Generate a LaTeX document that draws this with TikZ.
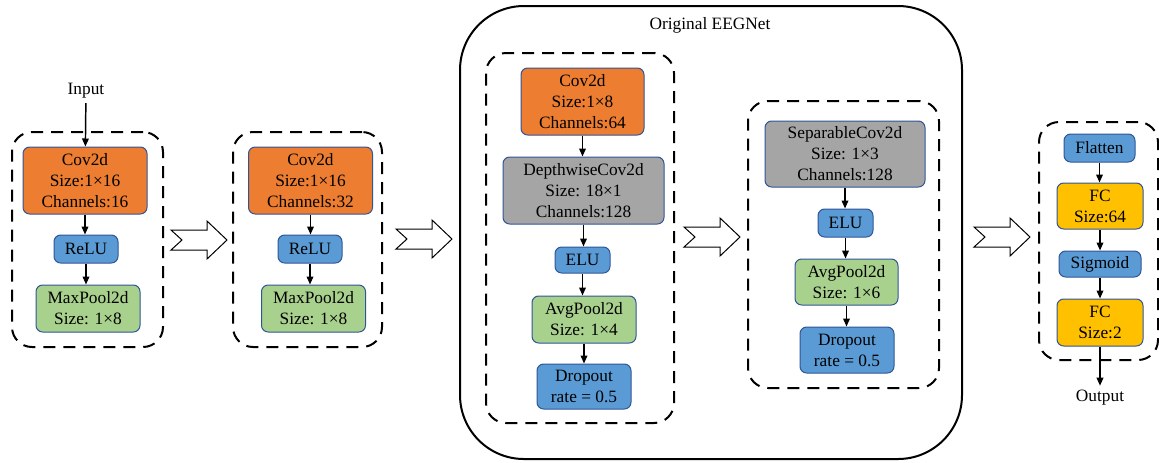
\documentclass[tikz,border=0pt]{standalone}
\usepackage{fontspec}
\setmainfont{Liberation Serif}
\usepackage{tikz}
\usetikzlibrary{
  arrows.meta,
  positioning
}
\definecolor{LayerOrange}{RGB}{237, 125, 49}
\definecolor{LayerBlue}{RGB}{91, 155, 213}
\definecolor{LayerGreen}{RGB}{169, 209, 142}
\definecolor{LayerGray}{RGB}{165, 165, 165}
\definecolor{LayerYellow}{RGB}{255, 192, 0}
\definecolor{EdgeBlue}{RGB}{47, 85, 151}
\newcommand{\layerfont}{\rmfamily\fontsize{13}{15.8}\selectfont}
\tikzset{
    boxsize/.style 2 args={minimum width=#1, minimum height=#2},
    layer/.style={rectangle, draw=EdgeBlue, line width=0.75pt, rounded corners=5pt,
        align=center, inner sep=0pt, font=\layerfont},
    convlayer/.style={layer, fill=LayerOrange},
    actlayer/.style={layer, fill=LayerBlue},
    poollayer/.style={layer, fill=LayerGreen},
    graylayer/.style={layer, fill=LayerGray},
    fclayer/.style={layer, fill=LayerYellow},
    groupbox/.style={rectangle, draw, line width=1.5pt, dash pattern=on 9pt off 6pt,
        rounded corners=15pt, inner sep=0pt},
    flow/.style={-{Triangle[length=6pt, width=5pt]}, line width=1.1pt},
    pics/notcharrow/.style={code={
        \draw[line width=0.75pt, fill=white]
            (0,-10) -- (36,-10) -- (36,-19) -- (56,0) -- (36,19) -- (36,10) -- (0,10) -- (11,0) -- cycle;
    }}
}

\begin{document}
\begin{tikzpicture}[x=0.75pt, y=-0.75pt]
    \useasboundingbox (0,0) rectangle (1159,462);

    % block 1
    \node[groupbox, boxsize={113.25pt}{161.25pt}] (g1) at (87.5,239.5) {};
    \node[font=\layerfont] (input) at (86,91) {Input};
    \node[convlayer, boxsize={93pt}{50.25pt}] (c1) at (85,180.5) {Cov2d\\Size:1×16\\Channels:16};
    \node[actlayer, boxsize={48pt}{21pt}] (r1) at (86,249) {ReLU};
    \node[poollayer, boxsize={78pt}{35.25pt}] (m1) at (88,308.5) {MaxPool2d\\Size: 1×8};
    \draw[flow] (input) -- (c1);
    \draw[flow] (c1) -- (c1 |- r1.north);
    \draw[flow] (r1) -- (r1 |- m1.north);

    \pic at (171,240) {notcharrow};

    % block 2
    \node[groupbox, boxsize={111.75pt}{161.25pt}] (g2) at (307.5,239.5) {};
    \node[convlayer, boxsize={93pt}{50.25pt}] (c2) at (310.5,180.5) {Cov2d\\Size:1×16\\Channels:32};
    \node[actlayer, boxsize={48pt}{21pt}] (r2) at (310,249) {ReLU};
    \node[poollayer, boxsize={78pt}{35.25pt}] (m2) at (313.5,308.5) {MaxPool2d\\Size: 1×8};
    \draw[flow] (c2) -- (c2 |- r2.north);
    \draw[flow] (r2) -- (r2 |- m2.north);

    \pic at (396,239) {notcharrow};

    % original EEGNet
    \node[draw, line width=1.5pt, rounded corners=48pt, boxsize={376.5pt}{339.75pt}] (eegnet) at (711,232.5) {};
    \node[font=\layerfont] (title) at (710,25) {Original EEGNet};

    \node[groupbox, boxsize={141pt}{277.5pt}] (ga) at (580,238) {};
    \node[convlayer, boxsize={92.25pt}{50.25pt}] (ca) at (582.5,101.5) {Cov2d\\Size:1×8\\Channels:64};
    \node[graylayer, boxsize={120.75pt}{50.25pt}] (dw) at (583.5,190.5) {DepthwiseCov2d\\Size: 18×1\\Channels:128};
    \node[actlayer, boxsize={41.25pt}{19.5pt}] (ea) at (582.5,260) {ELU};
    \node[poollayer, boxsize={78pt}{35.25pt}] (aa) at (584,319.5) {AvgPool2d\\Size: 1×4};
    \node[actlayer, boxsize={70.5pt}{33.75pt}] (da) at (584,386.5) {Dropout\\rate = 0.5};
    \draw[flow] (ca) -- (ca |- dw.north);
    \draw[flow] (dw) -- (dw |- ea.north);
    \draw[flow] (ea) -- (ea |- aa.north);
    \draw[flow] (aa) -- (aa |- da.north);

    \pic at (684,237) {notcharrow};

    \node[groupbox, boxsize={143.25pt}{215.25pt}] (gb) at (843.5,244.5) {};
    \node[graylayer, boxsize={120pt}{49.5pt}] (sc) at (845,154) {SeparableCov2d\\Size: 1×3\\Channels:128};
    \node[actlayer, boxsize={41.25pt}{21pt}] (eb) at (845.5,223) {ELU};
    \node[poollayer, boxsize={77.25pt}{34.5pt}] (ab) at (846.5,282) {AvgPool2d\\Size: 1×6};
    \node[actlayer, boxsize={70.5pt}{34.5pt}] (db) at (847,350) {Dropout\\rate = 0.5};
    \draw[flow] (sc) -- (sc |- eb.north);
    \draw[flow] (eb) -- (eb |- ab.north);
    \draw[flow] (ab) -- (ab |- db.north);

    \pic at (974,237) {notcharrow};

    % classifier
    \node[groupbox, boxsize={89.25pt}{178.5pt}] (gc) at (1098.5,241) {};
    \node[actlayer, boxsize={53.25pt}{21pt}] (fl) at (1099.5,148) {Flatten};
    \node[fclayer, boxsize={64.5pt}{34.5pt}] (f1) at (1100,206) {FC\\Size:64};
    \node[actlayer, boxsize={61.5pt}{19.5pt}] (sg) at (1100,264) {Sigmoid};
    \node[fclayer, boxsize={64.5pt}{35.25pt}] (f2) at (1100,322.5) {FC\\Size:2};
    \node[font=\layerfont] (output) at (1100,398) {Output};
    \draw[flow] (fl) -- (fl |- f1.north);
    \draw[flow] (f1) -- (f1 |- sg.north);
    \draw[flow] (sg) -- (sg |- f2.north);
    \draw[flow] (f2) -- (output);
\end{tikzpicture}
\end{document}
